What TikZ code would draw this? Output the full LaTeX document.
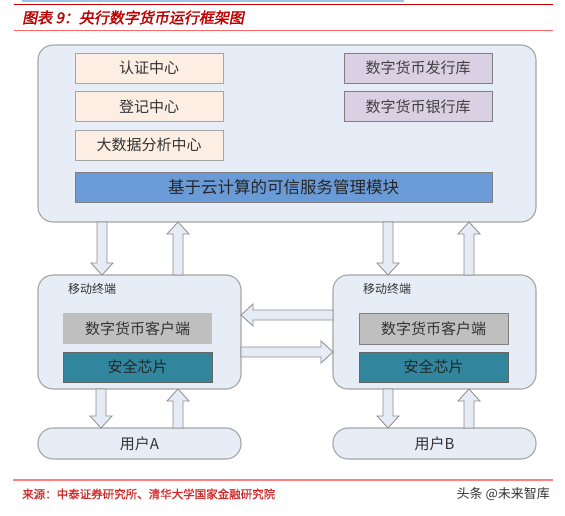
\documentclass[tikz,border=0pt]{standalone}
\usepackage{fontspec}
\setmainfont{Noto Sans CJK SC}
\newfontfamily\cjktitle[FakeSlant=0.2,FakeBold=2]{Noto Sans CJK SC}
\newfontfamily\cjksrc[FakeBold=1]{Noto Sans CJK SC}
\usetikzlibrary{calc}
\definecolor{mainfill}{HTML}{E7EDF7}
\definecolor{bordergray}{HTML}{A5A5A5}
\definecolor{orangefill}{HTML}{FDEEE3}
\definecolor{purplefill}{HTML}{D9D1E3}
\definecolor{barblue}{HTML}{6B9BD6}
\definecolor{grayfill}{HTML}{BFBFBF}
\definecolor{tealfill}{HTML}{31859C}
\definecolor{arrowfill}{HTML}{E6ECF6}
\definecolor{titlered}{HTML}{C00000}
\definecolor{srcred}{HTML}{D02828}
\definecolor{topblue}{HTML}{9DC3E6}
\definecolor{txt}{HTML}{333333}
\tikzset{
  base/.style={anchor=north west, outer sep=0pt, inner sep=0pt, text=txt, font=\fontsize{15}{17}\selectfont},
  mainbox/.style={base, draw=bordergray, line width=1.1pt, fill=mainfill, rounded corners=15pt},
  orangebox/.style={base, draw=bordergray, line width=0.9pt, fill=orangefill, minimum width=148pt, minimum height=30pt},
  purplebox/.style={base, draw=gray, line width=0.9pt, fill=purplefill, minimum width=148pt, minimum height=30pt, text=black!75},
  barbox/.style={base, draw=gray, line width=0.8pt, fill=barblue, minimum width=417pt, minimum height=30pt, text=black!85, font=\fontsize{16.5}{18}\selectfont},
  termbox/.style={mainbox, minimum width=203pt, minimum height=114pt},
  userbox/.style={mainbox, minimum width=203pt, minimum height=31pt, rounded corners=15pt},
  graybox/.style={base, fill=grayfill, minimum width=149pt, minimum height=31pt},
  tealbox/.style={base, draw=black!60, line width=0.8pt, fill=tealfill, minimum width=149pt, minimum height=30pt, text=black!85},
  smalllabel/.style={anchor=west, inner sep=0pt, text=txt, font=\fontsize{12}{13}\selectfont},
  blk/.style={draw=black!45, line width=0.8pt, fill=arrowfill, line join=miter}
}
\newcommand\blockarrow[2]{%
  \coordinate (bs) at #1;
  \coordinate (be) at #2;
  \coordinate (bh) at ($(be)!12pt!(bs)$);
  \draw[blk] ($(bs)!5pt!90:(be)$) -- ($(bh)!5pt!90:(be)$) -- ($(bh)!11pt!90:(be)$) -- (be)
    -- ($(bh)!11pt!-90:(be)$) -- ($(bh)!5pt!-90:(be)$) -- ($(bs)!5pt!-90:(be)$) -- cycle;
}
\begin{document}
\begin{tikzpicture}[x=1pt,y=-1pt]
\useasboundingbox[fill=white] (0,0) rectangle (565,516);
% header
\draw[topblue, line width=1.6pt] (22,0.8) -- (404,0.8);
\draw[red!80!black, line width=1.5pt] (14,4.5) -- (553,4.5);
\node[anchor=west, inner sep=0pt, text=titlered] (title) at (22,17.5)
  {\cjktitle\fontsize{15}{18}\selectfont 图表 9：央行数字货币运行框架图};
\draw[red!60!white, line width=1pt] (14,31) -- (553,31);
% main box
\node[mainbox, minimum width=498pt, minimum height=177pt] (main) at (38,45) {};
\node[orangebox] (auth) at (75,53) {认证中心};
\node[orangebox] (reg) at (75,91.5) {登记中心};
\node[orangebox] (bigdata) at (75,130) {大数据分析中心};
\node[purplebox] (issue) at (344,53) {数字货币发行库};
\node[purplebox] (bank) at (344,91.5) {数字货币银行库};
\node[barbox] (cloud) at (75,172) {基于云计算的可信服务管理模块};
% terminals
\node[termbox] (mA) at (38,275) {};
\node[termbox] (mB) at (333,275) {};
\node[smalllabel] (lA) at (68,289) {移动终端};
\node[smalllabel] (lB) at (363,289) {移动终端};
\node[graybox] (cA) at (63,313) {数字货币客户端};
\node[graybox, draw=black!50, line width=0.8pt] (cB) at (359,313) {数字货币客户端};
\node[tealbox] (sA) at (63,352) {安全芯片};
\node[tealbox] (sB) at (359,352) {安全芯片};
% users
\node[userbox] (uA) at (38,428) {用户A};
\node[userbox] (uB) at (333,428) {用户B};
% arrows main <-> terminals
\blockarrow{($(main.south west)+(64,0)$)}{($(mA.north west)+(64,0)$)}
\blockarrow{($(mA.north west)+(140,0)$)}{($(main.south west)+(140,0)$)}
\blockarrow{($(main.south west)+(350,0)$)}{($(mB.north west)+(55,0)$)}
\blockarrow{($(mB.north west)+(136,0)$)}{($(main.south west)+(431,0)$)}
% arrows between terminals
\blockarrow{($(mB.north west)+(0,40)$)}{($(mA.north east)+(0,40)$)}
\blockarrow{($(mA.north east)+(0,77)$)}{($(mB.north west)+(0,77)$)}
% arrows terminals <-> users
\blockarrow{($(mA.south west)+(63,0)$)}{($(uA.north west)+(63,0)$)}
\blockarrow{($(uA.north west)+(140,0)$)}{($(mA.south west)+(140,0)$)}
\blockarrow{($(mB.south west)+(55,0)$)}{($(uB.north west)+(55,0)$)}
\blockarrow{($(uB.north west)+(136,0)$)}{($(mB.south west)+(136,0)$)}
% footer
\draw[red!50!white, line width=1.8pt] (13,480) -- (553,480);
\node[anchor=west, inner sep=0pt, text=srcred] (src) at (22,494)
  {\cjksrc\fontsize{11.5}{13}\selectfont 来源：中泰证券研究所、清华大学国家金融研究院};
\node[anchor=east, inner sep=0pt, text=black!80] (wm) at (550,494)
  {\fontsize{13}{15}\selectfont 头条 @未来智库};
\end{tikzpicture}
\end{document}
